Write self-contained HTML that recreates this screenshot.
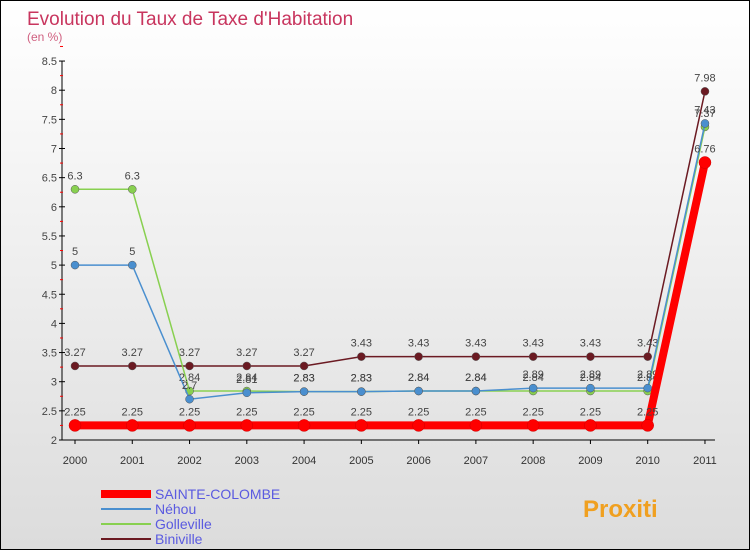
<!DOCTYPE html>
<html><head><meta charset="utf-8"><style>
body{margin:0}
#c{width:748px;height:548px;border:1px solid #000;background:linear-gradient(#fff,#dcdcdc);position:relative;font-family:"Liberation Sans",sans-serif}
</style></head><body>
<div id="c">
<svg width="748" height="548" id="s">
<text x="26" y="24" font-size="19" fill="#c8355e">Evolution du Taux de Taxe d'Habitation</text>
<text x="26" y="40" font-size="12" fill="#d06080">(en %)</text>
</svg>
</div>
<script>
const years=["2000","2001","2002","2003","2004","2005","2006","2007","2008","2009","2010","2011"];
const yTicks=[2,2.5,3,3.5,4,4.5,5,5.5,6,6.5,7,7.5,8,8.5];
const sainte=[2.25,2.25,2.25,2.25,2.25,2.25,2.25,2.25,2.25,2.25,2.25,6.76];
const nehou=[5,5,2.7,2.81,2.83,2.83,2.84,2.84,2.89,2.89,2.89,7.43];
const golleville=[6.3,6.3,2.84,2.84,2.83,2.83,2.84,2.84,2.84,2.84,2.84,7.37];
const biniville=[3.27,3.27,3.27,3.27,3.27,3.43,3.43,3.43,3.43,3.43,3.43,7.98];
const names=["SAINTE-COLOMBE","Néhou","Golleville","Biniville"];
const NS="http://www.w3.org/2000/svg";
const s=document.getElementById('s');
const X=i=>74+i*57.27, Y=v=>439-(v-2)*58.3;
function el(t,a,p){const e=document.createElementNS(NS,t);for(const k in a)e.setAttribute(k,a[k]);(p||s).appendChild(e);return e;}
let ax=el('line',{x1:61,y1:Y(8.5),x2:61,y2:Y(2),stroke:'#000'});


let bx=el('line',{x1:61,y1:Y(2),x2:X(11)+10,y2:Y(2),stroke:'#000'});


yTicks.forEach(v=>{
 el('line',{x1:58,x2:64,y1:Y(v),y2:Y(v),stroke:'#000'});
 el('line',{x1:59,x2:62,y1:Y(v+0.25),y2:Y(v+0.25),stroke:'#f00'});
 const t=el('text',{x:56,y:Y(v)+4,'font-size':11,fill:'#444','text-anchor':'end'});t.textContent=String(v);
 
 
});
years.forEach((y,i)=>{
 el('line',{x1:X(i),x2:X(i),y1:Y(2),y2:Y(2)+4,stroke:'#000'});
 const t=el('text',{x:X(i),y:463,'font-size':11,fill:'#333','text-anchor':'middle'});t.textContent=y;
 
 
});
const series=[[biniville,'#6b1a22',1.5,4],[golleville,'#88d050',1.5,4],[nehou,'#4a8fcf',1.5,4],[sainte,'#ff0000',8,6]];
const sname=['biniville','golleville','nehou','sainte-colombe'];
series.forEach(([d,c,w,r],k)=>{
 const g=el('g',{});
 
 
 el('polyline',{points:d.map((v,i)=>X(i)+','+Y(v)).join(' '),fill:'none',stroke:c,'stroke-width':w},g);
 d.forEach((v,i)=>{
  const p=el('circle',{cx:X(i),cy:Y(v),r:r,fill:c,stroke:k==3?'#c00':'#555','stroke-width':0.5},g);
  
  
  const t=el('text',{x:X(i),y:Y(v)-10,'font-size':11,fill:'#444','text-anchor':'middle'},g);t.textContent=String(v);
  
  
 });
});
const lc=['#ff0000','#4a8fcf','#88d050','#6b1a22'],lw=[8,2,2,2];
names.forEach((n,i)=>{
 const y=493+i*15;
 const g=el('g',{});
 
 
 el('line',{x1:100,x2:150,y1:y,y2:y,stroke:lc[i],'stroke-width':lw[i]},g);
 const t=el('text',{x:154,y:y+5,'font-size':14,fill:'#5a5ae0'},g);t.textContent=n;
});
const pt=el('text',{x:582,y:516,'font-size':24,'font-weight':'bold',fill:'#f0a020'});pt.textContent='Proxiti';


</script>
</body></html>
